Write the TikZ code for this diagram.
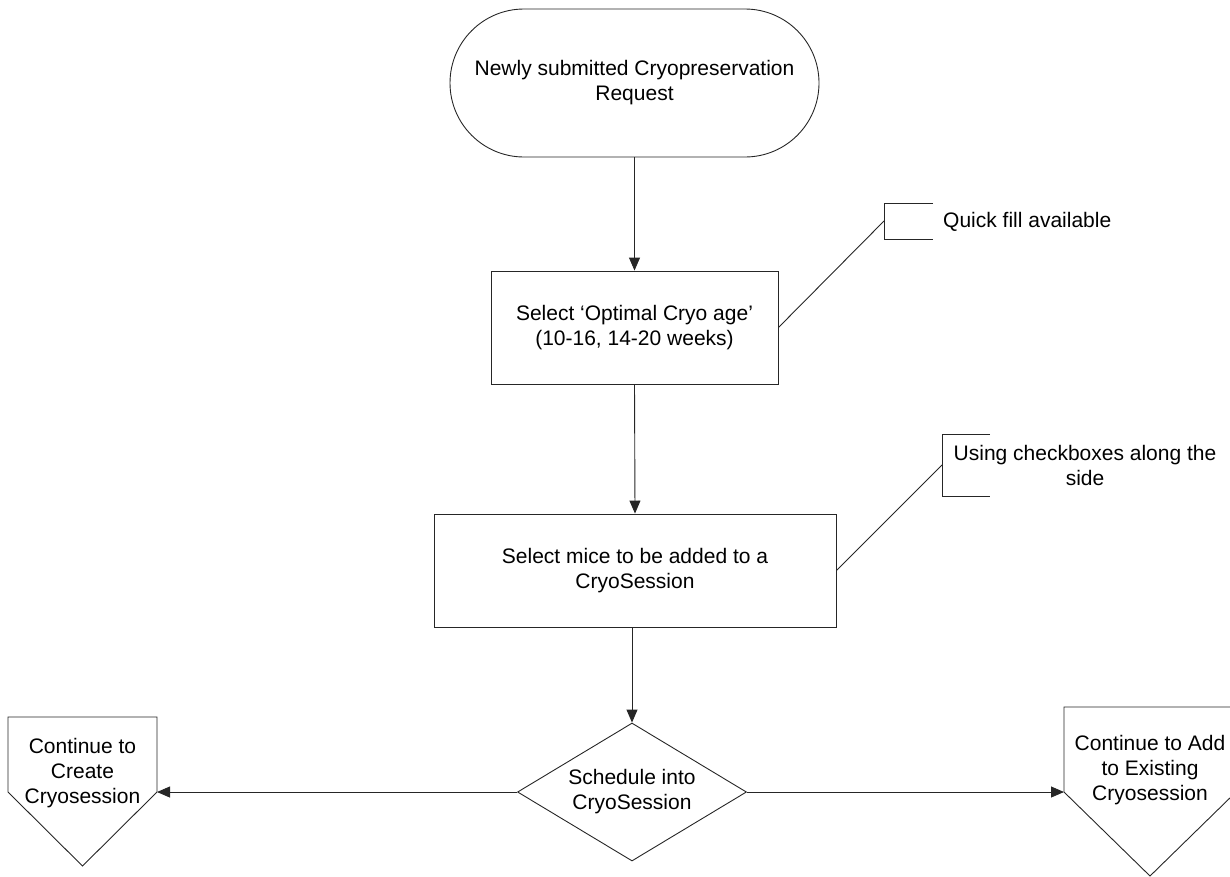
\documentclass[tikz,border=0pt]{standalone}
\usepackage{fontspec}
\setmainfont{Liberation Sans}
\usetikzlibrary{arrows.meta,shapes.geometric}
\begin{document}
\begin{tikzpicture}[x=1pt,y=-1pt,
  every node/.style={font=\fontsize{21}{25}\selectfont, inner sep=0pt},
  ln/.style={draw=black!85, line width=0.9pt},
  procbox/.style={ln, rectangle, align=center},
  term/.style={ln, rectangle, rounded corners=74pt, align=center, minimum width=369pt, minimum height=148pt},
  decis/.style={ln, diamond, align=center, minimum width=229pt, minimum height=138pt, aspect=1.66},
  flow/.style={ln, -{Triangle[length=13pt,width=11pt]}},
  lbl/.style={align=center}
]
\useasboundingbox (0,0) rectangle (1230,876);

% main flow
\node[term] (start) at (634.5,83) {Newly submitted Cryopreservation\\Request};
\node[procbox, minimum width=287pt, minimum height=113pt] (age) at (634.5,327.5) {Select ‘Optimal Cryo age’\\(10-16, 14-20 weeks)};
\node[procbox, minimum width=402pt, minimum height=113pt] (mice) at (635,570.5) {Select mice to be added to a\\CryoSession};
\node[decis] (sched) at (632,792) {Schedule into\\CryoSession};

\draw[flow] (start.south) -- (age.north);
\draw[flow] (age.south) -- (mice.north);
\draw[flow] (mice.south -| sched.north) -- (sched.north);

% off-page connector left
\draw[ln] (8,717) -- (157,717) -- (157,792) -- (82.5,866) -- (8,792) -- cycle;
\node[lbl] (offL) at (82.5,773) {Continue to\\Create\\Cryosession};
\coordinate (offLin) at (157,792);

% off-page connector right
\draw[ln] (1064,707) -- (1236,707) -- (1236,792) -- (1150,876) -- (1064,792) -- cycle;
\node[lbl] (offR) at (1150,770.5) {Continue to Add\\to Existing\\Cryosession};
\coordinate (offRin) at (1064,792);

\draw[flow] (sched.west) -- (offLin);
\draw[flow] (sched.east) -- (offRin);

% annotation 1
\draw[ln] (933,203) -- (884,203) -- (884,239) -- (933,239);
\coordinate (qa) at (884,221);
\draw[ln] (age.east) -- (qa);
\node[anchor=west] (qtxt) at (943,222) {Quick fill available};

% annotation 2
\draw[ln] (990,434) -- (942,434) -- (942,496) -- (990,496);
\coordinate (ua) at (942,465);
\draw[ln] (mice.east) -- (ua);
\node[lbl] (utxt) at (1085,465.5) {Using checkboxes along the\\side};
\end{tikzpicture}
\end{document}
